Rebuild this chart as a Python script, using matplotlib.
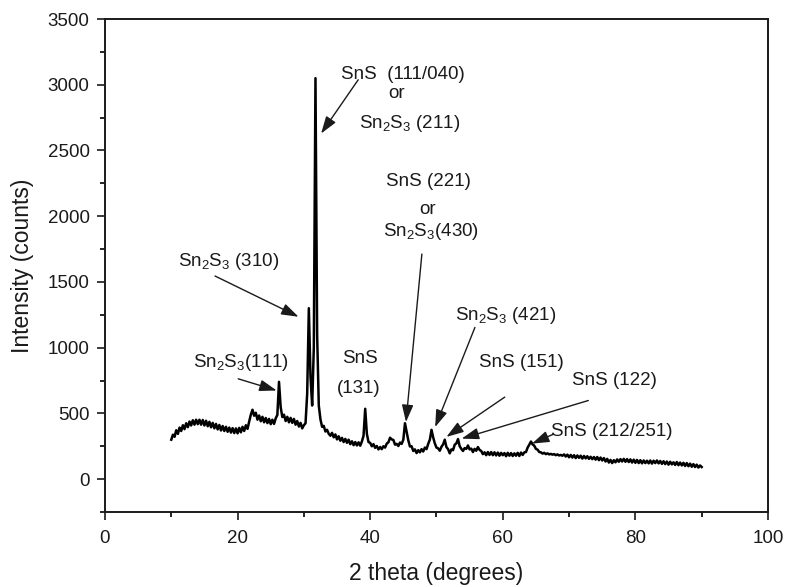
import numpy as np
import matplotlib
matplotlib.use('Agg')
import matplotlib.pyplot as plt
from matplotlib.ticker import MultipleLocator

plt.rcParams['font.family'] = ['Liberation Sans', 'DejaVu Sans']
plt.rcParams['mathtext.default'] = 'regular'

# XRD scan: start angle, step and counts
scan_start = 10.0
scan_step = 0.25
counts = [
    300, 338, 322, 372, 344, 392, 366, 410, 380, 425, 395, 438, 408, 448, 414, 452,
    418, 452, 414, 450, 408, 444, 402, 436, 394, 428, 386, 420, 378, 412, 370, 404,
    366, 398, 360, 392, 354, 388, 350, 386, 348, 390, 356, 398, 366, 410, 382, 438,
    490, 528, 482, 505, 452, 484, 440, 474, 432, 465, 426, 458, 418, 452, 420, 462,
    488, 740, 548, 472, 490, 442, 474, 432, 466, 428, 458, 414, 442, 400, 428, 386,
    410, 425, 650, 1300, 780, 560, 1000, 3050, 1100, 560, 455, 398, 405, 362, 375, 345,
    330, 352, 318, 340, 302, 326, 292, 314, 282, 306, 276, 300, 266, 288, 258, 282,
    256, 280, 254, 286, 330, 535, 345, 282, 276, 250, 266, 238, 252, 226, 244, 228,
    250, 240, 270, 280, 315, 302, 298, 262, 268, 252, 278, 268, 300, 425, 360, 295,
    248, 250, 214, 226, 198, 220, 204, 228, 210, 240, 228, 268, 300, 375, 318, 272,
    240, 234, 216, 246, 264, 300, 244, 228, 196, 226, 220, 262, 272, 305, 250, 230,
    214, 236, 230, 256, 226, 232, 206, 230, 216, 244, 222, 214, 190, 204, 182, 206,
    184, 206, 182, 204, 180, 202, 178, 200, 182, 198, 174, 200, 178, 198, 176, 196,
    178, 200, 176, 202, 184, 204, 206, 240, 262, 286, 264, 254, 230, 224, 206, 204,
    194, 200, 190, 196, 188, 192, 186, 190, 182, 188, 180, 184, 178, 188, 172, 186,
    166, 184, 164, 182, 160, 180, 162, 178, 156, 176, 158, 174, 154, 170, 152, 168,
    148, 168, 144, 164, 142, 160, 134, 154, 126, 146, 122, 144, 128, 150, 132, 152,
    134, 154, 132, 152, 130, 150, 126, 148, 124, 146, 122, 144, 120, 142, 122, 140,
    120, 142, 118, 140, 122, 142, 120, 138, 116, 136, 114, 134, 110, 132, 112, 128,
    108, 130, 106, 126, 104, 124, 100, 122, 98, 118, 94, 114, 92, 110, 88, 104,
    92,
]
two_theta = scan_start + scan_step * np.arange(len(counts))

# peak labels
labels = [
    'SnS  (111/040)', 'or', 'Sn$_2$S$_3$ (211)',
    'SnS (221)', 'or', 'Sn$_2$S$_3$(430)',
    'Sn$_2$S$_3$ (310)', 'Sn$_2$S$_3$(111)',
    'SnS', '(131)',
    'Sn$_2$S$_3$ (421)', 'SnS (151)', 'SnS (122)', 'SnS (212/251)',
]
label_xy = [
    (44.9, 3076), (44.0, 2932), (45.9, 2705),
    (48.8, 2265), (48.7, 2053), (49.2, 1886),
    (18.6, 1659), (20.5, 889),
    (38.5, 914), (38.2, 687),
    (60.5, 1242), (62.8, 889), (76.9, 750), (76.5, 359),
]
# arrows: (tail, head)
arrows = [
    ((38.2, 3038), (32.6, 2629)),
    ((47.8, 1712), (45.4, 434)),
    ((16.6, 1545), (29.2, 1235)),
    ((20.1, 763), (25.9, 674)),
    ((55.8, 1154), (49.8, 396)),
    ((60.3, 624), (51.5, 321)),
    ((72.9, 598), (53.8, 308)),
    ((67.6, 341), (64.4, 270)),
]

fig = plt.figure(figsize=(7.88, 5.87), dpi=100)
ax = fig.add_axes([0.1332, 0.1278, 0.8414, 0.8398])

ax.plot(two_theta, counts, color='black', linewidth=1.8)

for txt, (x, y) in zip(labels, label_xy):
    ax.text(x, y, txt, ha='center', va='center', fontsize=13.5, color='#1a1a1a')

for tail, head in arrows:
    ax.annotate('', xy=head, xytext=tail,
                arrowprops=dict(arrowstyle='-|>,head_length=0.75,head_width=0.25',
                                color='#1a1a1a', lw=1.0, shrinkA=0, shrinkB=0,
                                mutation_scale=14))

ax.set_xlim(0, 100)
ax.set_ylim(-250, 3500)
ax.xaxis.set_major_locator(MultipleLocator(20))
ax.xaxis.set_minor_locator(MultipleLocator(10))
ax.yaxis.set_major_locator(MultipleLocator(500))
ax.yaxis.set_minor_locator(MultipleLocator(250))
ax.tick_params(which='major', direction='out', length=6, width=1.2,
               labelsize=13.5, colors='#1a1a1a', pad=5)
ax.tick_params(axis='x', which='major', pad=7)
ax.tick_params(which='minor', direction='out', length=3.5, width=1.2)
ax.tick_params(top=False, right=False, which='both')
for s in ax.spines.values():
    s.set_linewidth(1.4)
    s.set_color('#1a1a1a')

ax.set_xlabel('2 theta (degrees)', fontsize=16.5, color='#1a1a1a', labelpad=11)
ax.set_ylabel('Intensity (counts)', fontsize=16.5, color='#1a1a1a', labelpad=10)

fig.savefig('out.png', dpi=100)
